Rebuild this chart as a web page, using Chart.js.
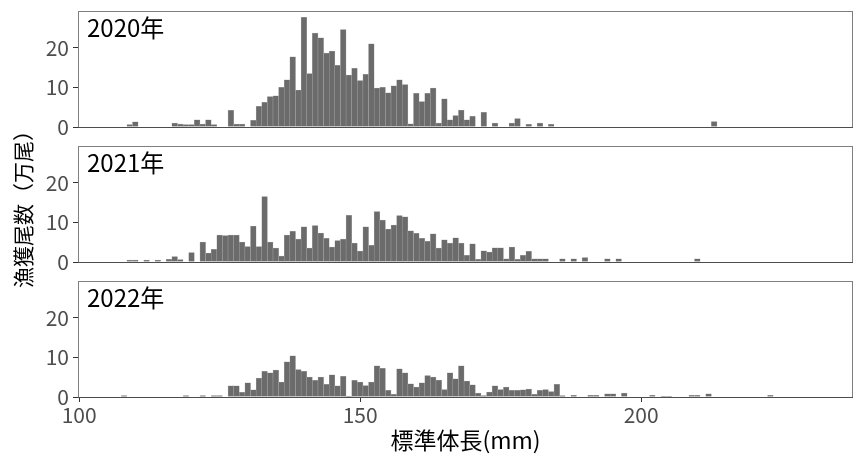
<!DOCTYPE html>
<html>
<head>
<meta charset="utf-8">
<script src="https://cdn.jsdelivr.net/npm/chart.js@4.4.1/dist/chart.umd.min.js"></script>
<style>
  body { margin: 0; background: #fff; }
  #wrap { position: relative; width: 855px; height: 457px; }
  #wrap canvas { position: absolute; left: 0; top: 0; }
</style>
</head>
<body>
<div id="wrap">
  <canvas id="c2020" width="855" height="457"></canvas>
  <canvas id="c2021" width="855" height="457"></canvas>
  <canvas id="c2022" width="855" height="457"></canvas>
</div>
<script>
// Catch by standard body length, one panel per year (1 mm bins)

const FONT = "'Noto Sans CJK JP', 'Noto Sans', sans-serif";

// first bin is centred on 108 mm, then one value per mm
const binStart = 108;

const catch2020 = [
  0, 0.6, 1.3, 0, 0, 0, 0, 0, 0, 1.0,
  0.75, 0.6, 0.6, 1.8, 0.75, 1.8, 0.6, 0, 0, 4.2,
  0.75, 0.75, 0, 1.7, 5.25, 6.25, 7.7, 7.9, 10, 11.9,
  17.7, 9.3, 27.7, 13.5, 23.75, 22.5, 18.7, 19.2, 15.6, 24.6,
  13.1, 14.8, 11.7, 13.3, 21, 9.8, 10, 8.6, 10.4, 11.9,
  10.7, 0.8, 8.5, 6.4, 8.5, 9.8, 1.0, 7.1, 1.8, 2.9,
  4.3, 1.8, 2.7, 0, 3.7, 0, 1.0, 0, 0, 1.0,
  2.1, 0, 0.7, 0, 1.0, 0, 0.7, 0, 0, 0,
  0, 0, 0, 0, 0, 0, 0, 0, 0, 0,
  0, 0, 0, 0, 0, 0, 0, 0, 0, 0,
  0, 0, 0, 0, 0, 1.4, 0, 0, 0, 0,
  0, 0, 0, 0, 0, 0
];

const catch2021 = [
  0, 0.5, 0.5, 0, 0.5, 0, 0.5, 0, 0.7, 1.4,
  0.6, 0, 2.4, 0, 5.0, 2.25, 3.2, 6.8, 6.7, 6.8,
  6.8, 5.0, 3.9, 9.1, 3.9, 16.5, 5.0, 3.5, 1.5, 6.8,
  7.75, 5.8, 8.9, 3.5, 9.2, 7.3, 6.0, 3.75, 5.4, 5.8,
  11.8, 4.8, 2.75, 8.9, 4.2, 12.75, 10.6, 8.3, 9.3, 11.7,
  11.4, 7.9, 7.25, 6.0, 5.25, 7.1, 3.5, 5.6, 4.8, 6.1,
  4.8, 1.7, 4.6, 0.7, 2.8, 2.5, 3.6, 3.6, 0.8, 3.75,
  0.7, 1.7, 2.7, 0.8, 0.8, 0.8, 0, 0, 0.8, 0,
  0.8, 0, 1.1, 0, 0, 0, 0.8, 0, 0.8, 0,
  0, 0, 0, 0, 0, 0, 0, 0, 0, 0,
  0, 0, 0.8, 0, 0, 0, 0, 0, 0, 0,
  0, 0, 0, 0, 0, 0
];

const catch2022 = [
  0.35, 0, 0, 0, 0, 0, 0, 0, 0, 0,
  0, 0.35, 0, 0, 0.35, 0, 0.35, 0.35, 0, 2.8,
  2.8, 1.2, 3.6, 1.8, 4.8, 6.5, 6.1, 6.8, 3.75, 8.9,
  10.4, 6.9, 6.5, 5.0, 4.2, 5.0, 3.2, 5.6, 2.8, 5.2,
  0.2, 4.2, 3.75, 2.9, 3.75, 7.9, 7.25, 1.7, 0.7, 7.1,
  6.1, 3.3, 2.5, 3.6, 5.4, 5.0, 4.3, 1.9, 6.1, 4.6,
  7.9, 4.0, 3.1, 1.0, 0.35, 1.25, 2.8, 1.9, 2.5, 1.7,
  1.7, 1.8, 2.0, 0.7, 1.7, 1.9, 1.4, 3.2, 0.35, 0,
  0.4, 0, 0, 0.4, 0.4, 0, 0.8, 0.8, 0, 1.0,
  0, 0, 0, 0, 0.4, 0, 0.2, 0.2, 0, 0,
  0, 0.4, 0.4, 0, 0.8, 0, 0, 0, 0, 0,
  0, 0, 0, 0, 0, 0.4
];

const yearLabels = ['2020年', '2021年', '2022年'];
const xTicks = [100, 150, 200];
const yTicks = [0, 10, 20];
const xMin = 99.8;
const xMax = 237.7;
const yMax = 29.3;
const xTitle = '標準体長(mm)';
const yTitle = '漁獲尾数（万尾）';

function toPoints(counts) {
  return counts
    .map((v, i) => ({ x: binStart + i, y: v }))
    .filter(p => p.y > 0);
}

// frame around each panel + year label in the top-left corner
const panelBox = {
  id: 'panelBox',
  afterDraw(chart, args, opts) {
    const { ctx, chartArea: a } = chart;
    ctx.save();
    ctx.strokeStyle = '#7f7f7f';
    ctx.lineWidth = 1;
    ctx.strokeRect(a.left + 0.5, a.top + 0.5, a.right - a.left - 1, a.bottom - a.top);
    ctx.strokeStyle = '#4d4d4d';
    ctx.beginPath();
    ctx.moveTo(a.left, a.bottom + 0.5);
    ctx.lineTo(a.right, a.bottom + 0.5);
    ctx.stroke();
    ctx.fillStyle = '#000';
    ctx.font = '24px ' + FONT;
    ctx.textBaseline = 'middle';
    ctx.fillText(opts.label, a.left + 9, a.top + 17);
    ctx.restore();
  }
};

function makeChart(id, counts, label, padTop, padBottom, isBottom, showYTitle) {
  return new Chart(document.getElementById(id), {
    type: 'bar',
    data: {
      datasets: [{
        data: toPoints(counts),
        backgroundColor: '#6b6b6b',
        borderColor: '#a8a8a8',
        borderWidth: 0.5,
        barPercentage: 1,
        categoryPercentage: 1
      }]
    },
    options: {
      responsive: false,
      animation: false,
      layout: { padding: { top: padTop, bottom: padBottom, left: 0, right: 2 } },
      plugins: {
        legend: { display: false },
        tooltip: { enabled: false },
        panelBox: { label: label }
      },
      scales: {
        x: {
          type: 'linear',
          min: xMin,
          max: xMax,
          offset: false,
          display: isBottom,
          afterFit: s => {
            s.paddingLeft = 0;
            s.paddingRight = 0;
            if (isBottom) s.height = 60;
          },
          afterBuildTicks: s => { s.ticks = xTicks.map(v => ({ value: v })); },
          grid: { offset: false, drawOnChartArea: false, drawTicks: true, tickLength: 5, color: '#333' },
          border: { display: false },
          ticks: { color: '#4d4d4d', font: { family: FONT, size: 21 }, padding: 0, maxRotation: 0 },
          title: {
            display: true,
            text: xTitle,
            color: '#000',
            font: { family: FONT, size: 23 },
            padding: { top: 0, bottom: 3 }
          }
        },
        y: {
          min: 0,
          max: yMax,
          afterFit: s => {
            s.width = 78;
            s.paddingTop = 0;
            s.paddingBottom = 0;
          },
          afterBuildTicks: s => { s.ticks = yTicks.map(v => ({ value: v })); },
          grid: { drawOnChartArea: false, drawTicks: true, tickLength: 5, color: '#333' },
          border: { display: false },
          ticks: { color: '#4d4d4d', font: { family: FONT, size: 21 }, padding: 4 },
          title: {
            display: showYTitle,
            text: yTitle,
            color: '#000',
            font: { family: FONT, size: 21 },
            padding: { top: 10, bottom: 0 }
          }
        }
      }
    },
    plugins: [panelBox]
  });
}

makeChart('c2020', catch2020, yearLabels[0], 11, 330, false, false);
makeChart('c2021', catch2021, yearLabels[1], 146, 195, false, true);
makeChart('c2022', catch2022, yearLabels[2], 281, 0, true, false);
</script>
</body>
</html>
